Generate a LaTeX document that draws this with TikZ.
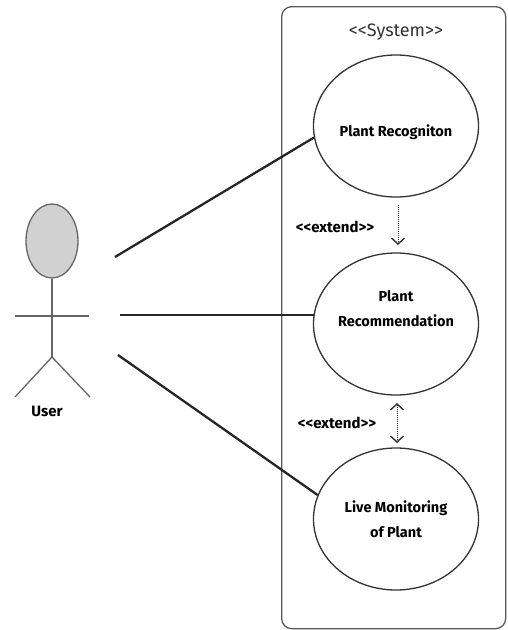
\documentclass[tikz,border=0pt]{standalone}
\usepackage{fontspec}
\setmainfont{Fira Sans}
\usetikzlibrary{shapes.geometric,arrows.meta}
\newcommand\dblt{<\kern0pt<}
\newcommand\dbgt{>\kern0pt>}
\begin{document}
\begin{tikzpicture}[x=1pt,y=-1pt,
  usecase/.style={draw=black!80,line width=1.3pt,ellipse,minimum width=165pt,minimum height=142pt,inner sep=0pt},
  uctext/.style={align=center,inner sep=0pt,font=\fontsize{14.5}{25}\selectfont\bfseries},
  assoc/.style={line width=2.3pt,black!85},
  actorline/.style={line width=1.3pt,black!60},
  ext/.style={densely dotted,line width=1pt,black!80},
  lbl/.style={font=\fontsize{15}{17}\selectfont\bfseries,inner sep=0pt},
  barb/.style={-{Straight Barb[length=6pt,width=13pt,line width=1.4pt]}},
  dbarb/.style={{Straight Barb[length=6pt,width=13pt,line width=1.4pt]}-{Straight Barb[length=6pt,width=13pt,line width=1.4pt]}}]
\useasboundingbox (0,0) rectangle (508,630);
% system boundary
\node[draw=black!65,line width=1.3pt,rounded corners=10pt,minimum width=224pt,minimum height=622pt,anchor=north west,inner sep=0pt] (sys) at (281,6) {};
\node[font=\fontsize{18}{20}\selectfont\color{black!80},inner sep=0pt] (systitle) at (396,32) {\dblt System\dbgt};
% use cases
\node[usecase] (uc1) at (396,126) {};
\node[uctext] (uc1t) at (396,132) {Plant Recogniton};
\node[usecase] (uc2) at (396,324) {};
\node[uctext] (uc2t) at (396,309) {Plant\\Recommendation};
\node[usecase] (uc3) at (396,519) {};
\node[uctext] (uc3t) at (396,519) {Live Monitoring\\of Plant};
% actor
\node[draw=black!60,fill=black!18,line width=1.3pt,ellipse,minimum width=52pt,minimum height=74pt,inner sep=0pt] (head) at (52,241) {};
\coordinate (hip) at (52,357);
\coordinate (armL) at (15,316);
\coordinate (armR) at (89,316);
\coordinate (legL) at (15,397);
\coordinate (legR) at (90,397);
\draw[actorline] (head.south) -- (hip);
\draw[actorline] (armL) -- (armR);
\draw[actorline] (legL) -- (hip) -- (legR);
\node[lbl] (user) at (47,411) {User};
% associations
\coordinate (a1) at (115,257);
\coordinate (a2) at (120,315);
\coordinate (a3) at (118,355);
\coordinate (b2) at (314,315);
\draw[assoc] (a1) -- (uc1.188);
\draw[assoc] (a2) -- (b2);
\draw[assoc] (a3) -- (uc3.163);
% extend relations
\coordinate (e1s) at (398,205);
\coordinate (e1e) at (398,245);
\draw[ext,barb] (e1s) -- (e1e);
\node[lbl] (ext1) at (335,227) {\dblt extend\dbgt};
\coordinate (e2s) at (397,403);
\coordinate (e2e) at (397,443);
\draw[ext,dbarb] (e2s) -- (e2e);
\node[lbl] (ext2) at (337,423) {\dblt extend\dbgt};
\end{tikzpicture}
\end{document}
